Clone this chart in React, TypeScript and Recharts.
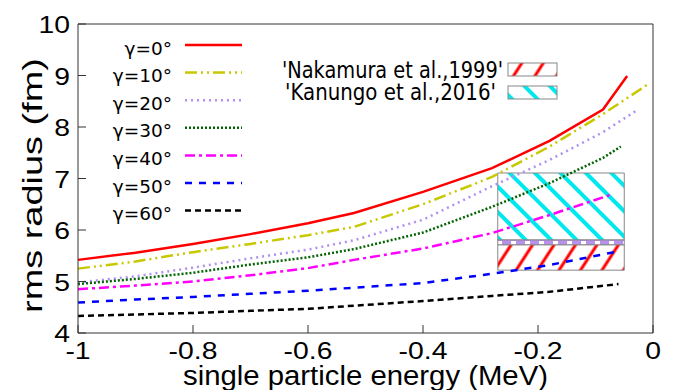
import { LineChart, Line, XAxis, YAxis, ReferenceArea, Customized } from 'recharts'

// single particle energy (MeV) for each curve
const energyG0 = [-1, -0.9, -0.8, -0.7, -0.6, -0.52, -0.4, -0.28, -0.18, -0.087, -0.045]
const energyG10 = [-1, -0.9, -0.8, -0.7, -0.6, -0.52, -0.4, -0.28, -0.18, -0.087, -0.01]
const energyG20 = [-1, -0.9, -0.8, -0.7, -0.6, -0.52, -0.4, -0.28, -0.18, -0.087, -0.03]
const energyG30 = [-1, -0.9, -0.8, -0.7, -0.6, -0.52, -0.4, -0.28, -0.18, -0.087, -0.056]
const energyG40 = [-1, -0.9, -0.8, -0.7, -0.6, -0.52, -0.4, -0.28, -0.18, -0.072]
const energyG50 = [-1, -0.9, -0.8, -0.7, -0.6, -0.52, -0.4, -0.28, -0.18, -0.063]
const energyG60 = [-1, -0.9, -0.8, -0.7, -0.6, -0.52, -0.4, -0.28, -0.18, -0.06]

// rms radius (fm)
const radiusG0 = [5.42, 5.56, 5.73, 5.92, 6.13, 6.33, 6.74, 7.2, 7.73, 8.34, 8.99]
const radiusG10 = [5.25, 5.39, 5.57, 5.73, 5.9, 6.06, 6.5, 7.03, 7.62, 8.25, 8.82]
const radiusG20 = [4.98, 5.1, 5.27, 5.45, 5.62, 5.8, 6.2, 6.85, 7.36, 7.9, 8.31]
const radiusG30 = [4.95, 5.05, 5.17, 5.33, 5.47, 5.63, 5.95, 6.45, 6.91, 7.4, 7.62]
const radiusG40 = [4.85, 4.92, 5.0, 5.12, 5.26, 5.42, 5.64, 5.94, 6.29, 6.69]
const radiusG50 = [4.59, 4.65, 4.7, 4.76, 4.82, 4.88, 4.97, 5.15, 5.32, 5.58]
const radiusG60 = [4.33, 4.36, 4.39, 4.43, 4.47, 4.53, 4.62, 4.72, 4.8, 4.95]

const xTicks = [-1, -0.8, -0.6, -0.4, -0.2, 0]
const yTicks = [4, 5, 6, 7, 8, 9, 10]

// experimental bands: [x1, x2, y1, y2]
const nakamuraBand = [-0.27, -0.05, 5.22, 5.71]
const overlapBand = [-0.27, -0.05, 5.71, 5.806]
const kanungoBand = [-0.27, -0.05, 5.806, 7.107]

const zip = (xs: number[], ys: number[]) => xs.map((e, i) => ({ e, r: ys[i] }))

const series = [
  { name: 'γ=0°', data: zip(energyG0, radiusG0), color: '#ff0000', dash: undefined },
  { name: 'γ=10°', data: zip(energyG10, radiusG10), color: '#c8c800', dash: '12 4 2 4 2 4' },
  { name: 'γ=20°', data: zip(energyG20, radiusG20), color: '#b090f0', dash: '2 4' },
  { name: 'γ=30°', data: zip(energyG30, radiusG30), color: '#006400', dash: '2 2' },
  { name: 'γ=40°', data: zip(energyG40, radiusG40), color: '#ff00ff', dash: '10 4 3 4' },
  { name: 'γ=50°', data: zip(energyG50, radiusG50), color: '#0000ff', dash: '7 7' },
  { name: 'γ=60°', data: zip(energyG60, radiusG60), color: '#000000', dash: '6 4' },
]

const AXIS_FONT = '"Liberation Sans", Arial, sans-serif'
const KEY_FONT = '"DejaVu Sans", sans-serif'
const AXIS = '#333'

function BottomTick(props: any) {
  const { x, y, payload } = props
  return (
    <g>
      <line x1={x} x2={x} y1={y} y2={y - 8} stroke={AXIS} />
      <text transform={`translate(${x} ${y + 26}) scale(1.18 1)`} textAnchor="middle" fontSize={24} fontFamily={AXIS_FONT} fill="#000">
        {String(payload.value)}
      </text>
    </g>
  )
}

function LeftTick(props: any) {
  const { x, y, payload } = props
  return (
    <g>
      <line x1={x} x2={x + 8} y1={y} y2={y} stroke={AXIS} />
      <text transform={`translate(${x - 8} ${y + 9}) scale(1.18 1)`} textAnchor="end" fontSize={24} fontFamily={AXIS_FONT} fill="#000">
        {String(payload.value)}
      </text>
    </g>
  )
}

function TopTick(props: any) {
  const { x, y } = props
  return <line x1={x} x2={x} y1={y} y2={y + 8} stroke={AXIS} />
}

function RightTick(props: any) {
  const { x, y } = props
  return <line x1={x} x2={x - 8} y1={y} y2={y} stroke={AXIS} />
}

function ChartLegend() {
  return (
    <g fontFamily={KEY_FONT}>
      {series.map((s, i) => {
        const y = 45 + i * 27.6
        return (
          <g key={s.name}>
            <text x={172} y={y + 9.5} textAnchor="end" fontSize={18.5} fill="#000">
              {s.name}
            </text>
            <line x1={185} x2={242} y1={y} y2={y} stroke={s.color} strokeWidth={2.5} strokeDasharray={s.dash} />
          </g>
        )
      })}
      <text x={282} y={77.5} fontSize={23} fill="#000" textLength={221} lengthAdjust="spacingAndGlyphs">
        'Nakamura et al.,1999'
      </text>
      <rect x={508} y={63} width={49} height={13} fill="url(#hatchRed)" stroke="#888" />
      <text x={285} y={100} fontSize={23} fill="#000" textLength={211} lengthAdjust="spacingAndGlyphs">
        'Kanungo et al.,2016'
      </text>
      <rect x={508} y={86} width={49} height={13} fill="url(#hatchCyan)" stroke="#888" />
    </g>
  )
}

function AxisTitles() {
  return (
    <g fontFamily={AXIS_FONT} fill="#000">
      <text x={183} y={385} fontSize={27} textLength={365} lengthAdjust="spacingAndGlyphs">
        single particle energy (MeV)
      </text>
      <text x={0} y={0} transform="translate(42 313) rotate(-90)" fontSize={27} textLength={255} lengthAdjust="spacingAndGlyphs">
        rms radius (fm)
      </text>
    </g>
  )
}

function Patterns() {
  return (
    <svg width={0} height={0} style={{ position: 'absolute' }}>
      <defs>
        <pattern id="hatchRed" patternUnits="userSpaceOnUse" width={18} height={18} patternTransform="rotate(33)">
          <rect width={18} height={18} fill="#fff" />
          <line x1={4} x2={4} y1={0} y2={18} stroke="#ff0000" strokeWidth={3} />
        </pattern>
        <pattern id="hatchCyan" patternUnits="userSpaceOnUse" width={18} height={18} patternTransform="rotate(-45)">
          <rect width={18} height={18} fill="#fff" />
          <line x1={4} x2={4} y1={0} y2={18} stroke="#00e8ee" strokeWidth={4} />
        </pattern>
        <pattern id="stripPurple" patternUnits="userSpaceOnUse" width={14} height={6}>
          <rect width={14} height={6} fill="#b890ee" />
          <rect x={7} y={1} width={5} height={4} fill="#fff" />
        </pattern>
      </defs>
    </svg>
  )
}

export default function App() {
  return (
    <div style={{ position: 'absolute', left: 0, top: 0, width: 679, height: 390, background: '#fff' }}>
      <Patterns />
      <LineChart width={679} height={390} margin={{ top: 23, right: 25, bottom: 56, left: 77 }}>
        <XAxis
          xAxisId="b"
          dataKey="e"
          type="number"
          domain={[-1, 0]}
          ticks={xTicks}
          height={1}
          tickSize={0}
          tickMargin={0}
          stroke={AXIS}
          tick={<BottomTick />}
        />
        <XAxis
          xAxisId="t"
          orientation="top"
          dataKey="e"
          type="number"
          domain={[-1, 0]}
          ticks={xTicks}
          height={1}
          tickSize={0}
          tickMargin={0}
          stroke={AXIS}
          tick={<TopTick />}
        />
        <YAxis
          yAxisId="l"
          type="number"
          domain={[4, 10]}
          ticks={yTicks}
          width={1}
          tickSize={0}
          tickMargin={0}
          stroke={AXIS}
          tick={<LeftTick />}
        />
        <YAxis
          yAxisId="r"
          orientation="right"
          type="number"
          domain={[4, 10]}
          ticks={yTicks}
          width={1}
          tickSize={0}
          tickMargin={0}
          stroke={AXIS}
          tick={<RightTick />}
        />
        <ReferenceArea xAxisId="b" yAxisId="l" x1={kanungoBand[0]} x2={kanungoBand[1]} y1={kanungoBand[2]} y2={kanungoBand[3]} fill="url(#hatchCyan)" fillOpacity={1} stroke="#888" />
        <ReferenceArea xAxisId="b" yAxisId="l" x1={overlapBand[0]} x2={overlapBand[1]} y1={overlapBand[2]} y2={overlapBand[3]} fill="url(#stripPurple)" fillOpacity={1} stroke="#888" />
        <ReferenceArea xAxisId="b" yAxisId="l" x1={nakamuraBand[0]} x2={nakamuraBand[1]} y1={nakamuraBand[2]} y2={nakamuraBand[3]} fill="url(#hatchRed)" fillOpacity={1} stroke="#888" />
        {series.map((s) => (
          <Line
            key={s.name}
            xAxisId="b"
            yAxisId="l"
            data={s.data}
            dataKey="r"
            type="linear"
            stroke={s.color}
            strokeWidth={2.5}
            strokeDasharray={s.dash}
            dot={false}
            activeDot={false}
            isAnimationActive={false}
          />
        ))}
        <Customized component={<ChartLegend />} />
        <Customized component={<AxisTitles />} />
      </LineChart>
    </div>
  )
}
